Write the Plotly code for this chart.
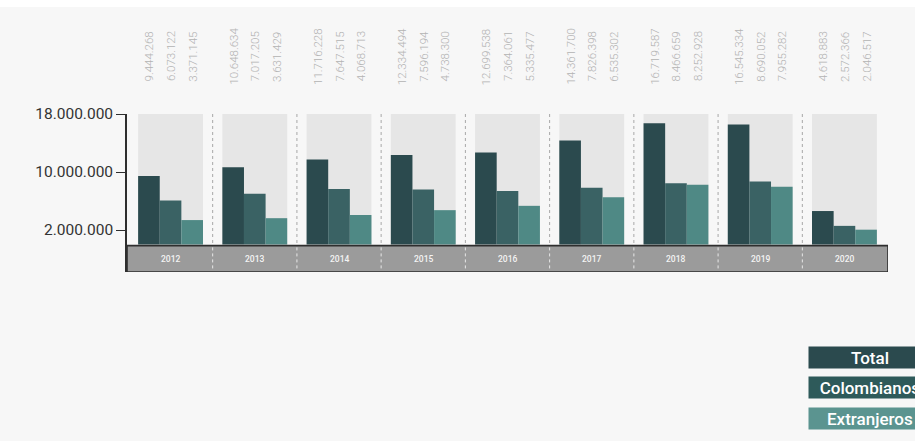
import plotly.graph_objects as go

# Passenger movement per year (Total / Colombianos / Extranjeros)
years = ["2012", "2013", "2014", "2015", "2016", "2017", "2018", "2019", "2020"]
total = [9444268, 10648634, 11716228, 12334494, 12699538, 14361700, 16719587, 16545334, 4618883]
colombianos = [6073122, 7017205, 7647515, 7596194, 7364061, 7826398, 8466659, 8690052, 2572366]
extranjeros = [3371145, 3631429, 4068713, 4738300, 5335477, 6535302, 8252928, 7955282, 2046517]
series_names = ["Total", "Colombianos", "Extranjeros"]
tick_values = [2000000, 10000000, 18000000]
tick_labels = ["2.000.000", "10.000.000", "18.000.000"]

bar_colors = ["#2b4a4e", "#3a6264", "#4f8985"]
legend_colors = ["#2b4a4e", "#2e5a5a", "#5b9490"]

Y_TOP = 18000000
Y_BOTTOM = -3790000
X_MIN, X_MAX = -0.517, 8.517
BAR_GAP = 0.23


def fmt(v):
    return f"{v:,}".replace(",", ".")


fig = go.Figure()
for name, vals, col in zip(series_names, [total, colombianos, extranjeros], bar_colors):
    fig.add_trace(go.Bar(
        x=list(range(len(years))), y=vals, name=name,
        marker=dict(color=col, line=dict(width=0)),
        showlegend=False, hoverinfo="skip",
    ))

shapes = []
# light panel behind each year's group
half = (1 - BAR_GAP) / 2
for i in range(len(years)):
    shapes.append(dict(type="rect", xref="x", yref="y", x0=i - half, x1=i + half,
                       y0=0, y1=Y_TOP, fillcolor="#e6e6e6", line=dict(width=0),
                       layer="below"))

# grey year band under the bars
shapes.append(dict(type="rect", xref="x", yref="y", x0=X_MIN, x1=X_MAX,
                   y0=Y_BOTTOM, y1=-150000, fillcolor="#9b9b9b",
                   line=dict(color="#2e2e2e", width=1.6), layer="above"))

# dotted separators between years
for i in range(len(years) - 1):
    shapes.append(dict(type="line", xref="x", yref="y", x0=i + 0.5, x1=i + 0.5,
                       y0=Y_TOP, y1=0, line=dict(color="#a8a8a8", width=1, dash="dot"),
                       layer="below"))
    shapes.append(dict(type="line", xref="x", yref="y", x0=i + 0.5, x1=i + 0.5,
                       y0=-400000, y1=Y_BOTTOM + 300000,
                       line=dict(color="#e8e8e8", width=1, dash="dot"), layer="above"))

# white strip along the top edge of the page
shapes.append(dict(type="rect", xref="paper", yref="paper", x0=-0.2, x1=1.1,
                   y0=1 + (114 - 7) / 158, y1=1 + 114 / 158, fillcolor="#ffffff",
                   line=dict(width=0), layer="below"))

annotations = []
bar_w_px = 761 / 9.034 * (1 - BAR_GAP) / 3
for i, yr in enumerate(years):
    annotations.append(dict(x=i, y=(Y_BOTTOM - 150000) / 2, xref="x", yref="y",
                            text=yr, showarrow=False,
                            font=dict(family="Roboto", size=8.5, color="#f4f4f4", weight=500),
                            xanchor="center", yanchor="middle"))
    for k, vals in enumerate([total, colombianos, extranjeros]):
        annotations.append(dict(x=i, y=1 + (114 - 56.5) / 158, xref="x", yref="paper",
                                xshift=(k - 1) * bar_w_px, text=fmt(vals[i]),
                                textangle=-90, showarrow=False,
                                font=dict(family="Roboto", size=11.5, color="#b3b3b3", weight=300),
                                xanchor="center", yanchor="middle"))

# legend boxes
legend_y = [357.5, 387, 418.5]
for name, col, py in zip(series_names, legend_colors, legend_y):
    annotations.append(dict(x=(808 - 127) / 761, y=(272 - py) / 158, xref="paper", yref="paper",
                            text=name, showarrow=False, xanchor="left", yanchor="middle",
                            width=120, height=19, align="center", bgcolor=col, borderpad=1,
                            font=dict(family="Roboto", size=17, color="#ffffff", weight=500)))

fig.update_layout(
    width=915, height=441,
    margin=dict(l=127, r=27, t=114, b=169, pad=0),
    paper_bgcolor="#f7f7f7", plot_bgcolor="rgba(0,0,0,0)",
    barmode="group", bargap=BAR_GAP, bargroupgap=0,
    shapes=shapes, annotations=annotations,
    xaxis=dict(range=[X_MIN, X_MAX], showgrid=False, zeroline=False,
               showticklabels=False, ticks="", showline=False),
    yaxis=dict(range=[Y_BOTTOM, Y_TOP], tickvals=tick_values, ticktext=tick_labels,
               showgrid=False, zeroline=False, showline=True, linecolor="#2e2e2e",
               linewidth=1.6, ticks="outside", ticklen=9, tickcolor="#2e2e2e",
               tickwidth=1.4,
               tickfont=dict(family="Roboto", size=15.5, color="#333333", weight=400)),
)

fig.write_html("out.html")
